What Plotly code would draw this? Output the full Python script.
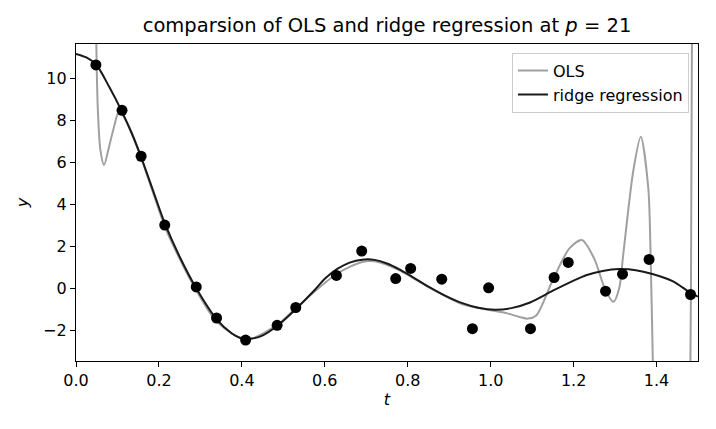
import plotly.graph_objects as go

# observed samples
t_obs = [0.048, 0.111, 0.157, 0.214, 0.290, 0.339, 0.409, 0.485, 0.530, 0.628,
         0.689, 0.771, 0.807, 0.882, 0.956, 0.995, 1.096, 1.153, 1.187, 1.277,
         1.318, 1.382, 1.482]
y_obs = [10.64, 8.48, 6.29, 3.01, 0.06, -1.42, -2.47, -1.77, -0.92, 0.61,
         1.77, 0.46, 0.94, 0.43, -1.93, 0.02, -1.93, 0.51, 1.23, -0.14,
         0.67, 1.37, -0.30]

# ridge regression fit
t_ridge = [0.000, 0.025, 0.049, 0.080, 0.110, 0.135, 0.157, 0.185, 0.214, 0.250,
           0.290, 0.340, 0.375, 0.395, 0.410, 0.425, 0.445, 0.485, 0.530, 0.575,
           0.600, 0.630, 0.660, 0.690, 0.720, 0.750, 0.780, 0.810, 0.850, 0.890,
           0.930, 0.970, 1.010, 1.050, 1.095, 1.150, 1.200, 1.230, 1.270, 1.310,
           1.350, 1.390, 1.440, 1.480, 1.500]
y_ridge = [11.17, 11.00, 10.65, 9.60, 8.45, 7.35, 6.25, 4.70, 3.10, 1.50,
           0.00, -1.50, -2.15, -2.36, -2.42, -2.40, -2.30, -1.80, -1.00, -0.10,
           0.45, 0.92, 1.22, 1.36, 1.35, 1.18, 0.90, 0.55, 0.08, -0.35,
           -0.70, -0.93, -1.03, -0.95, -0.68, -0.12, 0.36, 0.62, 0.82, 0.91,
           0.86, 0.68, 0.33, -0.20, -0.40]

# OLS fit (values beyond the axes are off-chart)
t_ols = [0.000, 0.030, 0.042, 0.046, 0.049, 0.0524, 0.0588, 0.0676, 0.0797, 0.0918,
         0.104, 0.128, 0.148, 0.185, 0.214, 0.250, 0.290, 0.340, 0.410, 0.485,
         0.530, 0.630, 0.690, 0.720, 0.780, 0.850, 0.930, 1.000, 1.040, 1.070,
         1.090, 1.110, 1.150, 1.190, 1.220, 1.250, 1.275, 1.296, 1.310, 1.320,
         1.344, 1.362, 1.380, 1.386, 1.391, 1.400, 1.440, 1.470, 1.480, 1.483,
         1.486, 1.500]
y_ols = [500.0, 100.0, 30.0, 16.0, 11.65, 8.65, 6.59, 5.87, 6.74, 7.70,
         8.42, 7.70, 6.74, 4.60, 2.95, 1.40, -0.10, -1.60, -2.45, -1.75,
         -0.95, 0.70, 1.25, 1.28, 0.85, 0.05, -0.75, -1.05, -1.20, -1.37,
         -1.45, -1.30, 0.40, 1.90, 2.30, 1.40, 0.00, -0.65, 0.00, 1.66,
         5.60, 7.22, 4.80, 1.30, -3.50, -15.0, -60.0, -40.0, -8.0, 0.0,
         15.0, 200.0]

x_ticks = [0.0, 0.2, 0.4, 0.6, 0.8, 1.0, 1.2, 1.4]
y_ticks = [-2, 0, 2, 4, 6, 8, 10]

FONT = "DejaVu Sans"

fig = go.Figure()
fig.add_trace(go.Scatter(x=t_ols, y=y_ols, mode="lines", name="OLS",
                         line=dict(color="#a0a0a0", width=2, shape="spline", smoothing=0.8)))
fig.add_trace(go.Scatter(x=t_ridge, y=y_ridge, mode="lines", name="ridge regression",
                         line=dict(color="#1a1a1a", width=2, shape="spline", smoothing=0.8)))
fig.add_trace(go.Scatter(x=t_obs, y=y_obs, mode="markers", showlegend=False,
                         marker=dict(color="black", size=11)))

ymin = min(y_obs) - 1
ymax = max(y_obs) + 1

axis_common = dict(showline=True, linecolor="black", linewidth=1.2, mirror=True,
                   ticks="outside", ticklen=5, tickwidth=1.2, tickcolor="black",
                   showgrid=False, zeroline=False,
                   tickfont=dict(family=FONT, size=16, color="black"))

fig.update_layout(
    width=716, height=429,
    margin=dict(l=76, r=18, t=44, b=68),
    paper_bgcolor="white", plot_bgcolor="white",
    font=dict(family=FONT, size=16, color="black"),
    title=dict(text="comparsion of OLS and ridge regression at <i>p</i> = 21",
               x=0.5, xref="paper", xanchor="center",
               y=1 - 25.5 / 429, yref="container", yanchor="middle",
               font=dict(family=FONT, size=19.5, color="black")),
    xaxis=dict(range=[0, 1.5], tickvals=x_ticks,
               ticktext=[f"{v:.1f}" for v in x_ticks],
               title=dict(text="<i>t</i>", standoff=4,
                          font=dict(family=FONT, size=16, color="black")),
               **axis_common),
    yaxis=dict(range=[ymin, ymax], tickvals=y_ticks,
               ticktext=[str(v).replace("-", "\u2212") for v in y_ticks],
               title=dict(text="<i>y</i>", standoff=10,
                          font=dict(family=FONT, size=16, color="black")),
               **axis_common),
    legend=dict(x=0.9855, y=0.9726, xanchor="right", yanchor="top",
                bgcolor="rgba(255,255,255,0.8)", bordercolor="#cccccc", borderwidth=1,
                font=dict(family=FONT, size=16, color="black")),
    showlegend=True,
)

fig.write_html("out.html", config={"displayModeBar": False},
               post_script="document.body.style.margin='0';")
